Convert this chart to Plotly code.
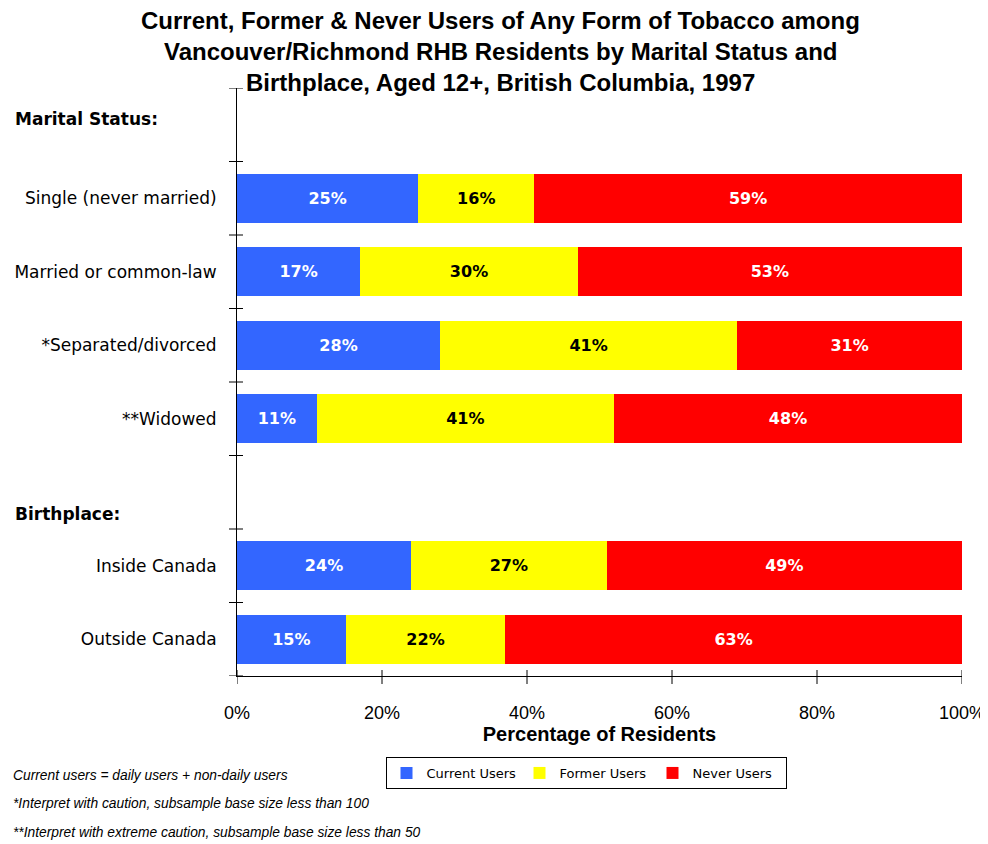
import plotly.graph_objects as go

categories = ["Single (never married)", "Married or common-law", "*Separated/divorced",
              "**Widowed", "Inside Canada", "Outside Canada"]
# slot positions on the y axis (1 = top); slots 1 and 6 hold the group headers
slots = [2, 3, 4, 5, 7, 8]
current = [25, 17, 28, 11, 24, 15]
former = [16, 30, 41, 41, 27, 22]
never = [59, 53, 31, 48, 49, 63]
series = [("Current Users", current, "#3366FF", "white"),
          ("Former Users", former, "#FFFF00", "black"),
          ("Never Users", never, "#FF0000", "white")]
groups = [("Marital Status:", 0.92), ("Birthplace:", 6.3)]
x_ticks = [0, 20, 40, 60, 80, 100]
x_ticktext = ["0%", "20%", "40%", "60%", "80%", "100%"]
n_slots = 8
title_lines = ["Current, Former & Never Users of Any Form of Tobacco among",
               "Vancouver/Richmond RHB Residents by Marital Status and",
               "Birthplace, Aged 12+, British Columbia, 1997"]
footnotes = ["Current users = daily users + non-daily users",
             "*Interpret with caution, subsample base size less than 100",
             "**Interpret with extreme caution, subsample base size less than 50"]

FONT = "Liberation Sans"
SANS = "DejaVu Sans"
OFF = 8                     # page body margin (px)
PL, PT, PW, PH = 237, 88, 725, 588   # plot box in page pixels
FW, FH = 988 - OFF, 844 - OFF

def py(p):  # page pixel row -> paper y
    return (PT + PH - p) / PH

def px_(p):  # page pixel column -> paper x
    return (p - PL) / PW

fig = go.Figure()
for name, vals, color, tcolor in series:
    fig.add_trace(go.Bar(
        y=slots, x=vals, name=name, orientation="h",
        marker=dict(color=color, line=dict(width=0)),
        width=0.67,
        text=[f"{v}%" for v in vals], textposition="inside",
        insidetextanchor="middle", textangle=0,
        textfont=dict(family=SANS, size=16, color=tcolor, weight="bold"),
        hoverinfo="skip",
    ))

shapes = []
for i in range(n_slots + 1):
    b = i + 0.5
    shapes.append(dict(type="line", xref="paper", yref="y", x0=-8/PW, x1=6/PW,
                       y0=b, y1=b, line=dict(color="black", width=1)))
for t in x_ticks:
    shapes.append(dict(type="line", xref="x", yref="paper", x0=t, x1=t,
                       y0=-8/PH, y1=6/PH, line=dict(color="black", width=1)))

annotations = []
for k, line in enumerate(title_lines):
    annotations.append(dict(text=f"<b>{line}</b>", xref="paper", yref="paper",
                            x=px_(500), y=py(20 + 31 * k), xanchor="center",
                            yanchor="middle", showarrow=False,
                            font=dict(family=FONT, size=24, color="black")))
for text, yv in groups:
    annotations.append(dict(text=f"<b>{text}</b>", xref="paper", yref="y",
                            x=px_(13), y=yv, xanchor="left", yanchor="middle",
                            showarrow=False,
                            font=dict(family=SANS, size=17, color="black")))
for k, fn in enumerate(footnotes):
    annotations.append(dict(text=f"<i>{fn}</i>", xref="paper", yref="paper",
                            x=px_(11), y=py(775 + 28.5 * k),
                            xanchor="left", yanchor="middle", showarrow=False,
                            font=dict(family=FONT, size=13.8, color="black")))

fig.update_layout(
    width=FW, height=FH,
    margin=dict(l=PL - OFF, r=FW - (PL - OFF) - PW, t=PT - OFF,
                b=FH - (PT - OFF) - PH, autoexpand=False),
    paper_bgcolor="white", plot_bgcolor="white",
    barmode="stack", bargap=0.33,
    font=dict(family=FONT, color="black"),
    xaxis=dict(range=[0, 100], tickvals=x_ticks, ticktext=x_ticktext,
               ticks="outside", ticklen=0, ticklabelstandoff=20,
               showline=True, linecolor="black", linewidth=1,
               showgrid=False, zeroline=False, fixedrange=True, automargin=False,
               tickfont=dict(family=FONT, size=18),
               title=dict(text="<b>Percentage of Residents</b>", standoff=0,
                          font=dict(family=FONT, size=20))),
    yaxis=dict(range=[n_slots + 0.5, 0.5], tickvals=slots, ticktext=categories,
               ticks="outside", ticklen=0, ticklabelstandoff=16,
               showline=True, linecolor="black", linewidth=1,
               showgrid=False, zeroline=False, fixedrange=True, automargin=False,
               tickfont=dict(family=SANS, size=17)),
    legend=dict(orientation="h", x=px_(586), xanchor="center",
                y=py(757), yanchor="top",
                bordercolor="black", borderwidth=1,
                font=dict(family=SANS, size=13), traceorder="normal",
                itemwidth=30, entrywidth=88, entrywidthmode="pixels"),
    shapes=shapes, annotations=annotations,
)

fig.write_html("out.html")
